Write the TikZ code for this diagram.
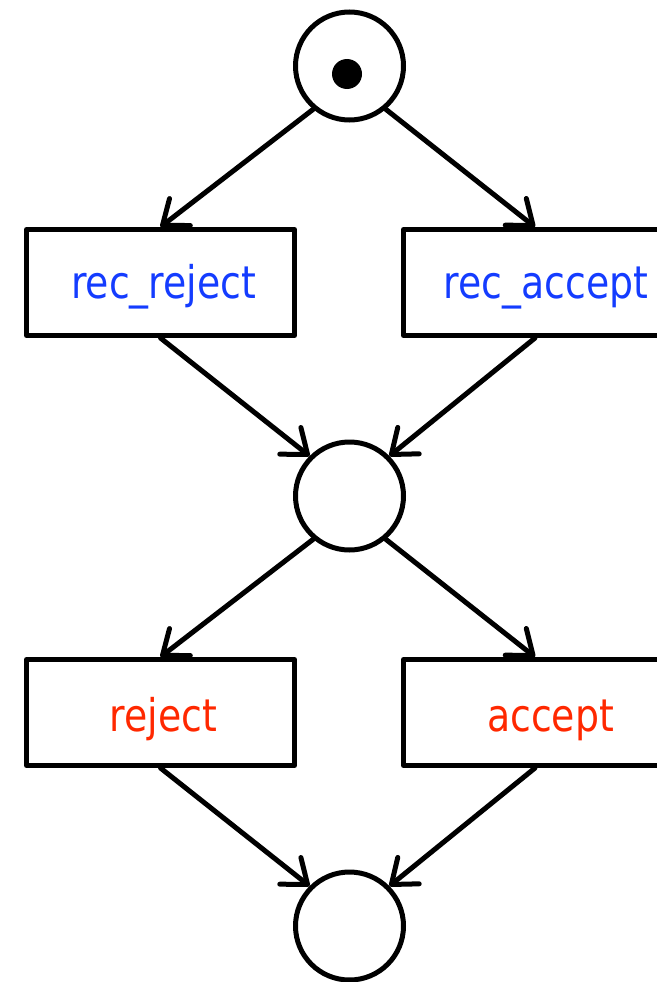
\documentclass[tikz,border=0pt]{standalone}
\usepackage{fontspec}
\setmainfont{DejaVu Sans}
\usetikzlibrary{arrows.meta,calc}
\definecolor{recblue}{RGB}{20,60,255}
\definecolor{actred}{RGB}{255,40,0}
\tikzset{
  place/.style={draw, circle, line width=5pt, minimum size=108pt, inner sep=0pt},
  token/.style={fill, circle, minimum size=30pt, inner sep=0pt},
  trans/.style={draw, rectangle, line width=5pt, line join=round, minimum height=106pt, inner sep=0pt},
  lbl/.style={anchor=base, inner sep=0pt, font=\fontsize{45}{50}\selectfont},
  arc/.style={line width=5pt, line cap=round, -{Straight Barb[length=22pt, width=34pt, line cap=round, line join=round]}}
}
\newcommand{\sq}[1]{\scalebox{0.84}[1]{#1}}
\begin{document}
\begin{tikzpicture}[x=1pt,y=-1pt]
\useasboundingbox (0,0) rectangle (656,982);
\node[place] (c1) at (349.5,66) {};
\node[token] (tk) at (347,74) {};
\node[trans, minimum width=268pt] (b1) at (160.5,282.5) {};
\node[trans, minimum width=287pt] (b2) at (547,282.5) {};
\node[place] (c2) at (349.5,496) {};
\node[trans, minimum width=268pt] (b3) at (160.5,712.5) {};
\node[trans, minimum width=287pt] (b4) at (547,712.5) {};
\node[place] (c3) at (349.5,926) {};
\node[lbl, text=recblue] (t1) at (163.5,298) {\sq{rec\_reject}};
\node[lbl, text=recblue] (t2) at (546,298) {\sq{rec\_accept}};
\node[lbl, text=actred] (t3) at (163.5,731) {\sq{reject}};
\node[lbl, text=actred] (t4) at (550.5,731) {\sq{accept}};
\coordinate (b2n) at ($(b2.north west)+(134,0)$);
\coordinate (b2s) at ($(b2.south west)+(134,0)$);
\coordinate (b4n) at ($(b4.north west)+(134,0)$);
\coordinate (b4s) at ($(b4.south west)+(134,0)$);
\draw[arc] (c1.230) -- (b1.north);
\draw[arc] (c1.310) -- (b2n);
\draw[arc] (b1.south) -- (c2.135);
\draw[arc] (b2s) -- (c2.45);
\draw[arc] (c2.230) -- (b3.north);
\draw[arc] (c2.310) -- (b4n);
\draw[arc] (b3.south) -- (c3.135);
\draw[arc] (b4s) -- (c3.45);
\end{tikzpicture}
\end{document}
